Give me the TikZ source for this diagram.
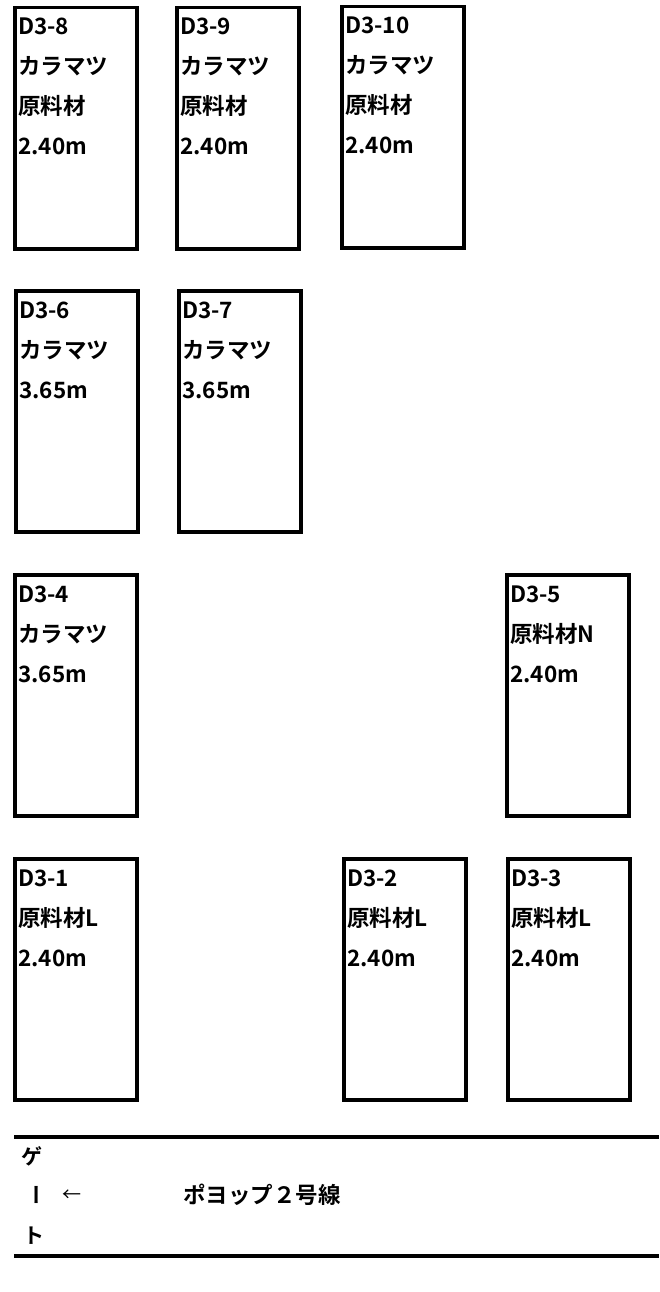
\documentclass[tikz,border=0pt]{standalone}
\usepackage{fontspec}
\setmainfont{Noto Sans CJK JP}[BoldFont={Noto Sans CJK JP Bold}]
\usetikzlibrary{calc}
\tikzset{
  plot/.style={draw=black, line width=3.5pt, minimum width=122pt, minimum height=241pt, anchor=north west, inner sep=0pt},
  lbl/.style={anchor=base west, inner sep=0pt, font=\fontsize{22.5}{26}\selectfont\bfseries},
  gate/.style={inner sep=0pt, font=\fontsize{21}{24}\selectfont\bfseries},
  rail/.style={line width=4pt},
}
\newcommand\yard[4]{%
  \node[plot] (#1) at (#2+2,#3+2) {};
  \foreach \t [count=\i] in {#4}
    \node[lbl] (#1-\i) at ($(#1.north west)+(5,{29+40*(\i-1)})$) {\t};
}
\begin{document}
\begin{tikzpicture}[x=1pt,y=-1pt]
\useasboundingbox (0,0) rectangle (659,1292);
\fill[white] (0,0) rectangle (659,1292);
\yard{d8}{11}{4}{D3-8,カラマツ,原料材,2.40m}
\yard{d9}{173}{4}{D3-9,カラマツ,原料材,2.40m}
\yard{d10}{338}{3}{D3-10,カラマツ,原料材,2.40m}
\yard{d6}{12}{287}{D3-6,カラマツ,3.65m}
\yard{d7}{175}{287}{D3-7,カラマツ,3.65m}
\yard{d4}{11}{571}{D3-4,カラマツ,3.65m}
\yard{d5}{503}{571}{D3-5,原料材N,2.40m}
\yard{d1}{11}{855}{D3-1,原料材L,2.40m}
\yard{d2}{340}{855}{D3-2,原料材L,2.40m}
\yard{d3}{504}{855}{D3-3,原料材L,2.40m}
% road
\coordinate (r1a) at (14,1137);
\coordinate (r1b) at (659,1137);
\coordinate (r2a) at (14,1256);
\coordinate (r2b) at (659,1256);
\draw[rail] (r1a) -- (r1b);
\draw[rail] (r2a) -- (r2b);
\node[gate] (g1) at (32,1156) {ゲ};
\node[gate, rotate=-90] (g2) at (33,1195) {ー};
\node[gate] (g3) at (34,1236) {ト};
\node[inner sep=0pt, font=\fontsize{19}{22}\selectfont] (arr) at (72,1196) {←};
\node[inner sep=0pt, anchor=west, font=\fontsize{22.5}{26}\selectfont\bfseries] (line2) at (183,1195) {ポヨップ２号線};
\end{tikzpicture}
\end{document}
